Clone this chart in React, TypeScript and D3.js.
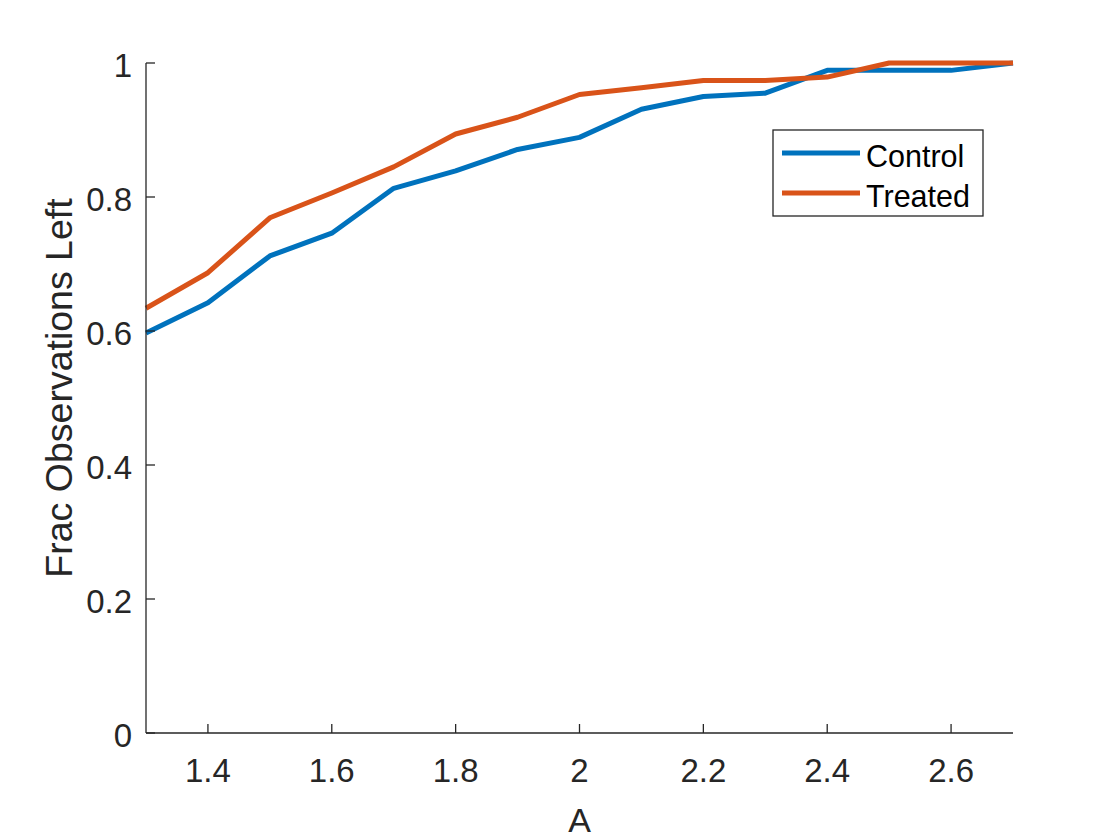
import React from "react";
import * as d3 from "d3";

const xValues = [1.3, 1.4, 1.5, 1.6, 1.7, 1.8, 1.9, 2.0, 2.1, 2.2, 2.3, 2.4, 2.5, 2.6, 2.7];
const controlValues = [0.597, 0.642, 0.712, 0.746, 0.813, 0.839, 0.871, 0.889, 0.931, 0.950, 0.955, 0.989, 0.989, 0.989, 1.0];
const treatedValues = [0.634, 0.687, 0.769, 0.806, 0.845, 0.894, 0.919, 0.953, 0.963, 0.974, 0.974, 0.979, 1.0, 1.0, 1.0];
const xTicks = [1.4, 1.6, 1.8, 2.0, 2.2, 2.4, 2.6];
const yTicks = [0, 0.2, 0.4, 0.6, 0.8, 1];
const seriesNames = ["Control", "Treated"];
const seriesColors = ["#0072BD", "#D95319"];

const W = 1120, H = 840;
const left = 146, right = 1013, top = 63, bottom = 733;
const font = "Liberation Sans, Arial, Helvetica, sans-serif";
const textColor = "#262626";

export default function App() {
  const x = d3.scaleLinear().domain([1.3, 2.7]).range([left, right]);
  const y = d3.scaleLinear().domain([0, 1]).range([bottom, top]);
  const line = d3.line<number>().x((_, i) => x(xValues[i])).y((d) => y(d));
  const series = [controlValues, treatedValues];
  const fmt = (v: number) => String(v);
  return (
    <svg width={W} height={H} style={{ position: "absolute", left: 0, top: 0, background: "#fff" }}>
      <rect x={0} y={0} width={W} height={H} fill="#fff" />
      {series.map((s, i) => (
        <path key={i} d={line(s) || ""} fill="none" stroke={seriesColors[i]} strokeWidth={5} strokeLinejoin="round" />
      ))}
      <line x1={left} x2={left} y1={top} y2={bottom} stroke={textColor} strokeWidth={1.3} />
      <line x1={left} x2={right} y1={bottom} y2={bottom} stroke={textColor} strokeWidth={1.3} />
      {yTicks.map((t) => (
        <g key={"y" + t}>
          <line x1={left} x2={left + 9} y1={y(t)} y2={y(t)} stroke={textColor} strokeWidth={1.3} />
          <text x={left - 14} y={y(t) + 14} textAnchor="end" fontFamily={font} fontSize={33} fill={textColor}>
            {fmt(t)}
          </text>
        </g>
      ))}
      {xTicks.map((t) => (
        <g key={"x" + t}>
          <line x1={x(t)} x2={x(t)} y1={bottom} y2={bottom - 9} stroke={textColor} strokeWidth={1.3} />
          <text x={x(t)} y={bottom + 49} textAnchor="middle" fontFamily={font} fontSize={33} fill={textColor}>
            {fmt(t)}
          </text>
        </g>
      ))}
      <text x={(left + right) / 2} y={832} textAnchor="middle" fontFamily={font} fontSize={34} fill={textColor}>
        A
      </text>
      <text
        transform={`translate(72, 388) rotate(-90)`}
        textAnchor="middle"
        fontFamily={font}
        fontSize={37.5}
        fill={textColor}
      >
        Frac Observations Left
      </text>
      <g>
        <rect x={773} y={130} width={210} height={86} fill="#fff" stroke={textColor} strokeWidth={1.3} />
        {seriesNames.map((n, i) => (
          <g key={n}>
            <line x1={782} x2={860} y1={153 + i * 40} y2={153 + i * 40} stroke={seriesColors[i]} strokeWidth={5} />
            <text x={866} y={167 + i * 40} fontFamily={font} fontSize={30.5} fill="#000">
              {n}
            </text>
          </g>
        ))}
      </g>
    </svg>
  );
}
